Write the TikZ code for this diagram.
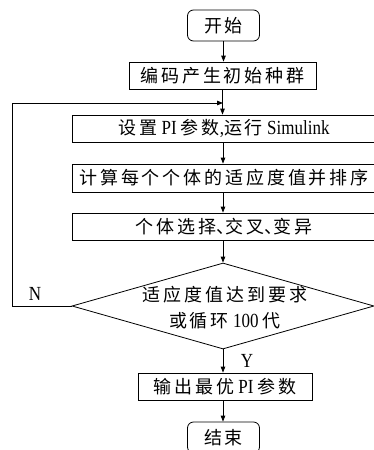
\documentclass[tikz,border=0pt]{standalone}
\usepackage{fontspec}
\setmainfont[FakeStretch=0.85]{Liberation Serif}
\newfontfamily\cjk[Scale=0.9,LetterSpace=16]{Noto Sans CJK SC}
\newcommand\dunhao{\makebox[9pt][l]{\cjk 、}}
\usetikzlibrary{shapes.geometric,arrows.meta}
\begin{document}
\begin{tikzpicture}[x=1pt,y=-1pt,
  every node/.style={font=\fontsize{20pt}{26pt}\selectfont},
  term/.style={draw,rounded corners=6pt,line width=0.8pt,minimum width=72pt,minimum height=31pt,inner sep=0pt},
  proc/.style={draw,line width=0.8pt,minimum height=27pt,inner sep=0pt},
  arr/.style={line width=0.8pt,-{Triangle[length=6pt,width=4.5pt]}},
  lbl/.style={inner sep=0pt}]
\useasboundingbox (0,0) rectangle (374,450);
\node[term] (start) at (223.5,25.5) {\cjk 开始};
\node[proc,minimum width=187pt] (b1) at (222.5,75.5) {\cjk 编码产生初始种群};
\node[proc,minimum width=304pt] (b2) at (224,128.5) {{\cjk 设置}\ PI\ {\cjk 参数},{\cjk 运行}\ Simulink};
\node[proc,minimum width=304pt,minimum height=28pt] (b3) at (224,178) {\cjk 计算每个个体的适应度值并排序};
\node[proc,minimum width=304pt] (b4) at (224,226.5) {{\cjk 个体选择}\dunhao{\cjk 交叉}\dunhao{\cjk 变异}};
\node[diamond,draw,line width=0.8pt,minimum width=302pt,minimum height=86pt,inner sep=0pt] (dec) at (223,306) {};
\node[lbl,align=center] (dtext) at (225,308) {{\cjk 适应度值达到要求}\\{\cjk 或循环}\ 100\ {\cjk 代}};
\node[proc,minimum width=174pt] (b5) at (225,386.5) {{\cjk 输出最优}\ PI\ {\cjk 参数}};
\node[term] (stop) at (223.5,437.5) {\cjk 结束};
\node[lbl] (nl) at (35,294) {N};
\node[lbl] (yl) at (247,361) {Y};
\coordinate (lc) at (12,103);
\coordinate (lj) at (223,103);
\draw[arr] (start.south) -- (start.south |- b1.north);
\draw[line width=0.8pt] (b1.south) -- (b1.south |- lj);
\draw[arr] (b1.south |- lj) -- (b1.south |- b2.north);
\draw[arr] (dec.west) -| (lc) -- (lj);
\draw[arr] (b2.south -| lj) -- (b3.north -| lj);
\draw[arr] (b3.south -| lj) -- (b4.north -| lj);
\draw[arr] (b4.south -| lj) -- (dec.north);
\draw[arr] (dec.south) -- (dec.south |- b5.north);
\draw[arr] (b5.south -| lj) -- (stop.north -| lj);
\end{tikzpicture}
\end{document}
